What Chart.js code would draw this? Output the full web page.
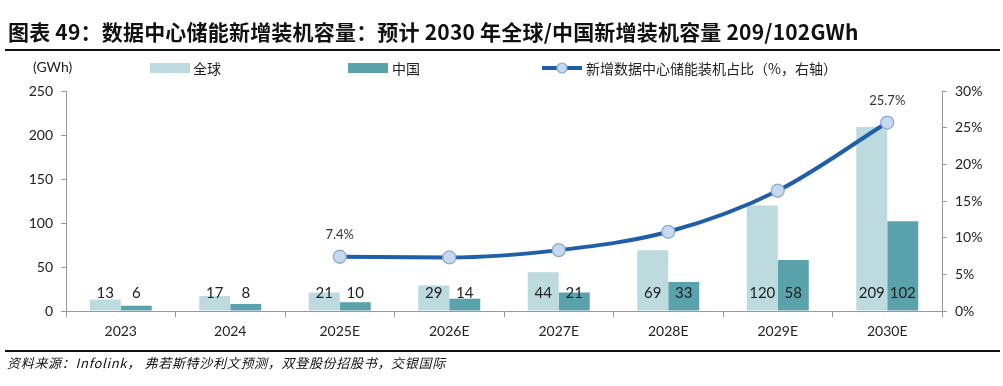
<!DOCTYPE html>
<html>
<head>
<meta charset="utf-8">
<script src="https://cdn.jsdelivr.net/npm/chart.js@4/dist/chart.umd.min.js"></script>
<style>
  body { margin:0; background:#fff; }
  #wrap { position:relative; width:1003px; height:386px; overflow:hidden; font-family:"Noto Sans CJK SC", sans-serif; }
  #chart { position:absolute; left:0; top:0; }
  .title { position:absolute; left:8px; top:16px; font-size:21px; font-weight:bold; color:#111; white-space:nowrap; letter-spacing:0.2px; }
  .rule { position:absolute; left:5px; width:995px; height:2px; background:#111; }
  .unit { position:absolute; left:33px; top:58px; font-family:Lato, sans-serif; font-size:14px; color:#222; }
  .lg { position:absolute; top:58px; font-size:14px; color:#222; white-space:nowrap; }
  .box { position:absolute; top:63px; width:40px; height:10px; }
  .src { position:absolute; left:7px; top:353px; font-size:13px; font-style:italic; color:#111; white-space:nowrap; letter-spacing:0.7px; }
</style>
</head>
<body>
<div id="wrap">
  <canvas id="chart" width="1003" height="386"></canvas>
  <div class="title">图表 49：数据中心储能新增装机容量：预计 2030 年全球/中国新增装机容量 209/102GWh</div>
  <div class="rule" style="top:49px"></div>
  <div class="unit">(GWh)</div>
  <div class="box" style="left:150px;background:#bddadf"></div>
  <div class="lg" style="left:193px">全球</div>
  <div class="box" style="left:348px;background:#5aa2ac"></div>
  <div class="lg" style="left:392px">中国</div>
  <canvas id="lgline" width="42" height="16" style="position:absolute;left:541px;top:60px"></canvas>
  <div class="lg" style="left:586px">新增数据中心储能装机占比（%，右轴）</div>
  <div class="rule" style="top:350px"></div>
  <div class="src">资料来源：Infolink， 弗若斯特沙利文预测，双登股份招股书，交银国际</div>
</div>

<script>
var years = ["2023", "2024", "2025E", "2026E", "2027E", "2028E", "2029E", "2030E"];
var globalCap = [13, 17, 21, 29, 44, 69, 120, 209];
var chinaCap = [6, 8, 10, 14, 21, 33, 58, 102];
var dcShare = [null, null, 7.4, 7.3, 8.3, 10.8, 16.4, 25.7];
var shareLabels = [null, null, "7.4%", null, null, null, null, "25.7%"];

var lightColor = "#bddadf";
var darkColor = "#5aa2ac";
var lineColor = "#1f5ea8";
var tickFont = { family: "Lato, sans-serif", size: 14 };

// legend line sample
(function () {
  var c = document.getElementById("lgline").getContext("2d");
  c.strokeStyle = lineColor; c.lineWidth = 4;
  c.beginPath(); c.moveTo(1, 8); c.lineTo(41, 8); c.stroke();
  c.beginPath(); c.arc(21, 8, 5, 0, Math.PI * 2);
  c.fillStyle = "#c6d9f0"; c.fill();
  c.strokeStyle = "#8eaad0"; c.lineWidth = 1.2; c.stroke();
})();

var labelPlugin = {
  id: "valueLabels",
  afterDatasetsDraw: function (chart) {
    var ctx = chart.ctx;
    var zeroY = chart.scales.y.getPixelForValue(0);
    ctx.save();
    ctx.textAlign = "center";
    ctx.textBaseline = "middle";
    ctx.fillStyle = "#222";
    ctx.font = "15px Lato, sans-serif";
    [0, 1].forEach(function (di) {
      var meta = chart.getDatasetMeta(di);
      meta.data.forEach(function (bar, i) {
        ctx.fillText(chart.data.datasets[di].data[i], bar.x, zeroY - 18);
      });
    });
    ctx.font = "13px Lato, sans-serif";
    ctx.fillStyle = "#333";
    var lm = chart.getDatasetMeta(2);
    lm.data.forEach(function (pt, i) {
      if (shareLabels[i]) ctx.fillText(shareLabels[i], pt.x, pt.y - 22);
    });
    ctx.restore();
  }
};

new Chart(document.getElementById("chart"), {
  type: "bar",
  data: {
    labels: years,
    datasets: [
      { label: "全球", data: globalCap, backgroundColor: lightColor, yAxisID: "y", order: 2,
        categoryPercentage: 0.566, barPercentage: 1 },
      { label: "中国", data: chinaCap, backgroundColor: darkColor, yAxisID: "y", order: 2,
        categoryPercentage: 0.566, barPercentage: 1 },
      { type: "line", label: "新增数据中心储能装机占比（%，右轴）", data: dcShare, yAxisID: "y2", order: 0,
        borderColor: lineColor, borderWidth: 4, cubicInterpolationMode: "monotone",
        pointRadius: 6.5, pointBackgroundColor: "#c6d9f0", pointBorderColor: "#8eaad0", pointBorderWidth: 1.3 }
    ]
  },
  options: {
    responsive: false,
    animation: false,
    layout: { padding: { top: 91, bottom: 0, left: 0, right: 0 } },
    plugins: { legend: { display: false }, tooltip: { enabled: false } },
    scales: {
      x: {
        afterFit: function (s) { s.height = 75; },
        grid: { drawOnChartArea: false, tickLength: 6, color: "#999", offset: true },
        border: { color: "#999" },
        ticks: { font: tickFont, color: "#222", padding: 6 }
      },
      y: {
        position: "left", min: 0, max: 250,
        afterFit: function (s) { s.width = 66; },
        grid: { drawOnChartArea: false, tickLength: 5, color: "#999" },
        border: { color: "#999" },
        ticks: { stepSize: 50, font: tickFont, color: "#222", padding: 8 }
      },
      y2: {
        position: "right", min: 0, max: 30,
        afterFit: function (s) { s.width = 61; },
        grid: { drawOnChartArea: false, tickLength: 5, color: "#999" },
        border: { color: "#999" },
        ticks: { stepSize: 5, font: tickFont, color: "#222", padding: 8,
          callback: function (v) { return v + "%"; } }
      }
    }
  },
  plugins: [labelPlugin]
});
</script>
</body>
</html>
